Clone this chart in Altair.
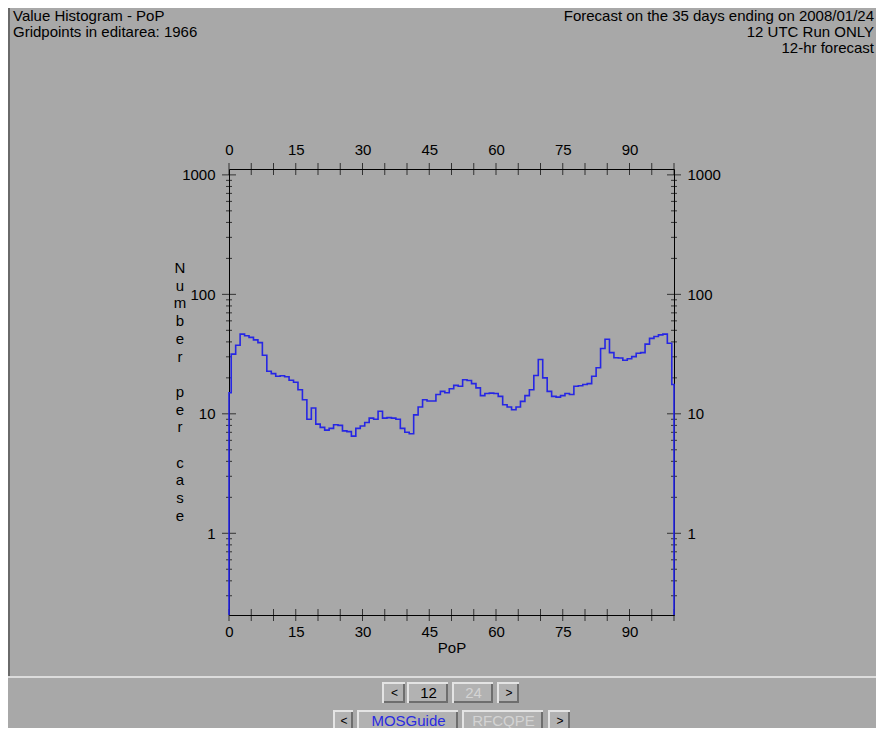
import altair as alt
import pandas as pd

# ---------------- data ----------------
pop_values = list(range(101))
cases_per_bin = [
    15.0, 31.6, 37.5, 46.5, 45.0, 43.6, 41.6, 39.4, 30.9, 22.7,
    21.7, 20.6, 20.8, 20.4, 19.1, 18.4, 15.9, 13.1, 9.0, 11.2,
    8.2, 7.7, 7.3, 7.55, 8.1, 8.0, 7.2, 7.1, 6.5, 7.55,
    7.9, 8.45, 9.2, 9.0, 10.5, 9.2, 9.3, 9.2, 9.0, 7.55,
    7.0, 6.8, 9.8, 11.4, 13.1, 12.8, 12.8, 14.5, 15.4, 15.0,
    16.2, 17.3, 17.0, 19.3, 19.0, 17.9, 16.5, 14.2, 14.8, 14.9,
    14.8, 14.0, 11.9, 11.4, 10.8, 11.4, 12.7, 14.2, 15.9, 20.9,
    28.5, 20.0, 15.4, 14.0, 13.8, 14.2, 14.8, 14.5, 17.0, 17.2,
    17.6, 17.9, 20.6, 24.3, 35.2, 42.1, 32.5, 29.5, 29.3, 28.1,
    28.9, 30.1, 32.1, 32.5, 38.3, 42.8, 44.4, 45.8, 46.5, 39.0,
    17.6,
]
x_label_values = [0, 15, 30, 45, 60, 75, 90]
x_tick_values = list(range(0, 101, 5))
y_label_values = [1, 10, 100, 1000]
y_minor_values = ([0.3, 0.4, 0.5, 0.6, 0.7, 0.8, 0.9]
                  + [2, 3, 4, 5, 6, 7, 8, 9]
                  + [20, 30, 40, 50, 60, 70, 80, 90]
                  + [200, 300, 400, 500, 600, 700, 800, 900])

title_left = ["Value Histogram - PoP", "Gridpoints in editarea: 1966"]
title_right = ["Forecast on the 35 days ending on 2008/01/24", "12 UTC Run ONLY", "12-hr forecast"]
y_title_words = ["Number", "per", "case"]

# ---------------- styling ----------------
BG = "#a8a8a8"
BLUE = "#2626e4"
FONT = "Liberation Sans"
W, H = 445, 446
Y_MIN, Y_MAX = 0.207, 1120
OX, OY = 229, 169  # page position of plot origin

x_scale = alt.Scale(domain=[0, 100], nice=False, zero=False)
y_scale = alt.Scale(type="log", domain=[Y_MIN, Y_MAX], nice=False)


def axis(orient, values, pad, **kw):
    return alt.Axis(orient=orient, values=values, ticks=False, grid=False,
                    domainColor="black", domainWidth=1, labelPadding=pad,
                    labelColor="black", labelFontSize=15, labelFont=FONT,
                    labelFlush=False, labelOverlap=False, zindex=0, **kw)


# step line table (drop to axis floor at both ends)
line_df = pd.DataFrame(
    {"pop": [0] + pop_values + [100],
     "n": [Y_MIN] + cases_per_bin + [Y_MIN]}
)
line_df["i"] = range(len(line_df))

xt_df = pd.DataFrame({"pop": x_tick_values})
top_ticks = alt.Chart(xt_df).mark_tick(color="black", thickness=1, size=12, orient="vertical").encode(
    x=alt.X("pop:Q", scale=x_scale, axis=axis("top", x_label_values, 12, title=None)),
    y=alt.value(0),
)
bottom_ticks = alt.Chart(xt_df).mark_tick(color="black", thickness=1, size=12, orient="vertical").encode(
    x=alt.X("pop:Q", scale=x_scale,
            axis=axis("bottom", x_label_values, 9, title="PoP", titleFont=FONT,
                      titleFontSize=15, titleFontWeight="normal",
                      titleColor="black", titlePadding=1)),
    y=alt.value(H),
)

yt_df = pd.DataFrame({
    "n": y_label_values + y_minor_values,
    "len": [14] * len(y_label_values) + [6] * len(y_minor_values),
})
left_ticks = alt.Chart(yt_df).mark_tick(color="black", thickness=1, orient="horizontal").encode(
    y=alt.Y("n:Q", scale=y_scale, axis=axis("left", y_label_values, 14, format="d", title=None)),
    x=alt.value(0),
    size=alt.Size("len:Q", scale=None, legend=None),
)
right_ticks = alt.Chart(yt_df).mark_tick(color="black", thickness=1, orient="horizontal").encode(
    y=alt.Y("n:Q", scale=y_scale, axis=axis("right", y_label_values, 13, format="d", title=None)),
    x=alt.value(W),
    size=alt.Size("len:Q", scale=None, legend=None),
)

line = alt.Chart(line_df).mark_line(
    interpolate="step", color=BLUE, strokeWidth=1.6
).encode(
    x=alt.X("pop:Q", scale=x_scale, axis=None),
    y=alt.Y("n:Q", scale=y_scale, axis=None),
    order="i:Q",
)

one = pd.DataFrame({"a": [0]})


def txt(text, px, py, color="black", align="left", baseline="alphabetic", size=15, **kw):
    return alt.Chart(one).mark_text(
        text=text, align=align, baseline=baseline, font=FONT, fontSize=size,
        color=color, **kw
    ).encode(x=alt.value(px - OX), y=alt.value(py - OY))


def rect(x0, x1, y0, y1, color):
    return alt.Chart(one).mark_rect(color=color, opacity=1).encode(
        x=alt.value(x0 - OX), x2=alt.value(x1 - OX),
        y=alt.value(y0 - OY), y2=alt.value(y1 - OY),
    )


layers = [top_ticks, bottom_ticks, left_ticks, right_ticks, line]

# header texts
layers.append(txt(title_left[0], 13, 21))
layers.append(txt(title_left[1], 13, 37))
layers.append(txt(title_right[0], 874, 21, align="right"))
layers.append(txt(title_right[1], 874, 37, align="right"))
layers.append(txt(title_right[2], 874, 53, align="right"))

# stacked y title: one letter per row, a blank row between words
row = 0
for word in y_title_words:
    for ch in word:
        layers.append(txt(ch, 180, 268 + row * 17.7, align="center", baseline="middle"))
        row += 1
    row += 1

# window chrome: separator line and frame
layers.append(rect(8, 884, 676, 678, "#dcdcdc"))
layers.append(rect(8, 10, 8, 676, "#6a6a6a"))

# buttons
buttons = [
    ("<", 382, 405, 682, 703, "black"),
    ("12", 407, 448, 682, 703, "black"),
    ("24", 452, 493, 682, 703, "#d4d4d4"),
    (">", 497, 519, 682, 703, "black"),
    ("<", 333, 353, 710, 740, "black"),
    ("MOSGuide", 357, 458, 710, 740, "#2a2ae0"),
    ("RFCQPE", 462, 543, 710, 740, "#d4d4d4"),
    (">", 548, 570, 710, 740, "black"),
]
for label, x0, x1, y0, y1, col in buttons:
    layers.append(rect(x0, x1, y0, y1, "#e4e4e4"))
    layers.append(rect(x0 + 2, x1, y0 + 2, y1, "#6e6e6e"))
    layers.append(rect(x0 + 2, x1 - 2, y0 + 2, y1 - 2, "#b2b2b2"))
    cy = 721 if y1 > 736 else (y0 + y1) / 2
    fs = 15 if len(label) > 1 else 12
    layers.append(txt(label, (x0 + x1) / 2 + 1, cy, color=col, align="center",
                      baseline="middle", size=fs))

chart = alt.layer(*layers).resolve_axis(x="independent", y="independent").properties(
    width=W, height=H,
    autosize=alt.AutoSizeParams(type="none"),
    padding={"left": OX - 8, "top": OY - 8, "right": 868 - (OX - 8) - W, "bottom": 720 - (OY - 8) - H},
    background=BG,
).configure_view(stroke=None, fill=BG)

chart.save("out.html", embed_options={"renderer": "svg", "actions": False})
